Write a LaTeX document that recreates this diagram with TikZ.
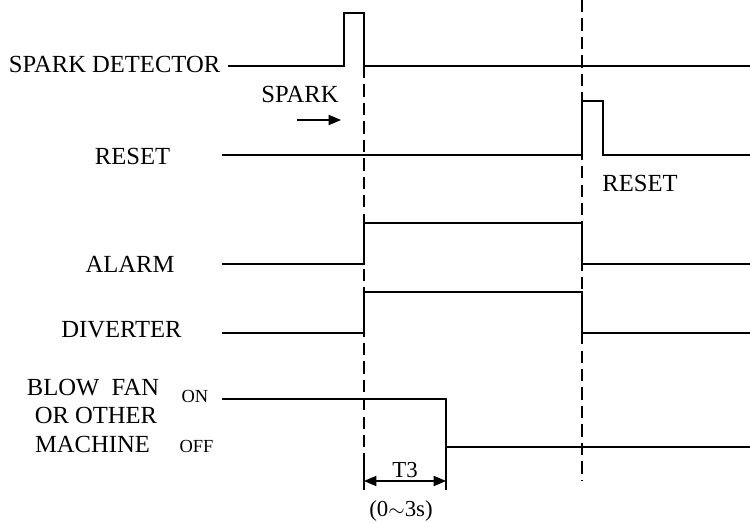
\documentclass[tikz,border=0pt]{standalone}
\usepackage{fontspec}
\setmainfont{Liberation Serif}
\usepackage{amsmath,amssymb}
\usepackage{tikz}
\usetikzlibrary{arrows}

\begin{document}
\begin{tikzpicture}[line cap=butt,line join=miter,>=triangle 45,x=1.0cm,y=1.0cm,line width=0.9pt,
    font=\fontsize{14}{16}\selectfont]
        \useasboundingbox (0,0) rectangle (15,10.44);
        % signals
        \draw (4.56,9.12) -- (6.88,9.12) -- (6.88,10.18) -- (7.28,10.18) -- (7.28,9.12) -- (15,9.12);
        \draw (4.44,7.34) -- (11.64,7.34) -- (11.64,8.42) -- (12.06,8.42) -- (12.06,7.34) -- (15,7.34);
        \draw (4.44,5.16) -- (7.28,5.16) -- (7.28,5.98) -- (11.64,5.98) -- (11.64,5.16) -- (15,5.16);
        \draw (4.44,3.78) -- (7.28,3.78) -- (7.28,4.6) -- (11.64,4.6) -- (11.64,3.78) -- (15,3.78);
        \draw (4.44,2.46) -- (8.92,2.46) -- (8.92,1.5) -- (15,1.5);
        % time marks
        \draw [dash pattern=on 7pt off 3.5pt] (7.28,9.12) -- (7.28,1.18);
        \draw [dash pattern=on 7pt off 3.5pt] (11.64,10.44) -- (11.64,0.82);
        \draw (7.28,1.18) -- (7.28,0.64);
        \draw (8.92,1.5) -- (8.92,0.64);
        \draw [<->,line width=0.6pt] (7.28,0.82) -- (8.92,0.82);
        \draw [->,line width=0.6pt] (5.94,8.04) -- (6.82,8.04);
        % labels
        \draw (4.42,8.98) node[anchor=base east,inner sep=0pt] (sparkdet) {SPARK DETECTOR};
        \draw (6.0,8.38) node[anchor=base,inner sep=0pt] (spark) {SPARK};
        \draw (2.65,7.14) node[anchor=base,inner sep=0pt] (resetl) {RESET};
        \draw (12.8,6.6) node[anchor=base,inner sep=0pt] (resetr) {RESET};
        \draw (2.6,5.0) node[anchor=base,inner sep=0pt] (alarm) {ALARM};
        \draw (2.43,3.7) node[anchor=base,inner sep=0pt] (diverter) {DIVERTER};
        \draw (1.86,2.54) node[anchor=base,inner sep=0pt] (blowfan) {BLOW\ \ FAN};
        \draw (1.92,1.98) node[anchor=base,inner sep=0pt] (orother) {OR OTHER};
        \draw (1.85,1.4) node[anchor=base,inner sep=0pt] (machine) {MACHINE};
        \draw (3.9,2.4) node[anchor=base,inner sep=0pt,font=\fontsize{10.5}{12}\selectfont] (on) {ON};
        \draw (3.93,1.4) node[anchor=base,inner sep=0pt,font=\fontsize{10.5}{12}\selectfont] (off) {OFF};
        \draw (8.1,0.9) node[anchor=base,inner sep=0pt,font=\fontsize{13}{15}\selectfont] (tthree) {T3};
        \draw (8.02,0.12) node[anchor=base,inner sep=0pt,font=\fontsize{13}{15}\selectfont] (range) {(0$\sim$3s)};
\end{tikzpicture}
\end{document}
